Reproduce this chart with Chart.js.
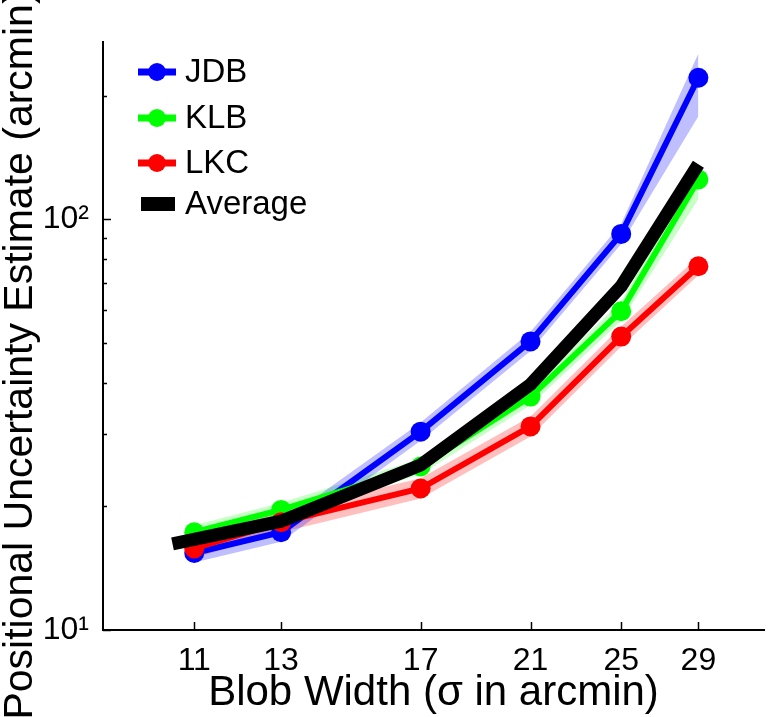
<!DOCTYPE html>
<html>
<head>
<meta charset="utf-8">
<title>Positional Uncertainty Estimate</title>
<script src="https://cdn.jsdelivr.net/npm/chart.js@4/dist/chart.umd.min.js"></script>
<style>
    html, body { margin: 0; padding: 0; background: #ffffff; }
    #wrap { width: 774px; height: 717px; }
</style>
</head>
<body>
<div id="wrap"><canvas id="chart" width="774" height="717"></canvas></div>
<script>
// 数据 - 从图中读取
const blobWidths = [11, 13, 17, 21, 25, 29];
const avgWidths = [10.55, 13, 17, 21, 25, 29];

const jdbValues = [15.4, 17.3, 30.4, 50.4, 92.1, 221];
const jdbLow    = [14.6, 16.4, 28.9, 47.8, 87.0, 178];
const jdbHigh   = [16.3, 18.3, 32.0, 53.2, 97.5, 253];

const klbValues = [17.3, 19.6, 25.0, 37.0, 59.7, 125];
const klbLow    = [16.6, 18.8, 23.9, 35.3, 56.5, 112];
const klbHigh   = [18.0, 20.4, 26.1, 38.9, 63.0, 136];

const lkcValues = [15.8, 18.3, 22.1, 31.3, 51.8, 76.8];
const lkcLow    = [15.0, 17.3, 20.9, 29.6, 49.0, 73.0];
const lkcHigh   = [16.7, 19.4, 23.4, 33.1, 54.8, 81.0];

const avgValues = [16.2, 18.4, 25.2, 39.6, 68.7, 136];

const xTicks = [11, 13, 17, 21, 25, 29];
const yTicks = [10, 20, 30, 40, 50, 60, 70, 80, 90, 100, 200];
const yTickLabels = { 10: '10¹', 100: '10²' };

const FONT = "'Liberation Sans', Arial, Helvetica, sans-serif";

function toPoints(xs, ys) {
    return xs.map((x, i) => ({ x: x, y: ys[i] }));
}

function bandPair(lows, highs, fillColor) {
    return [{
        data: toPoints(blobWidths, highs),
        borderColor: 'transparent',
        backgroundColor: fillColor,
        pointRadius: 0,
        fill: '+1',
        order: 10
    }, {
        data: toPoints(blobWidths, lows),
        borderColor: 'transparent',
        pointRadius: 0,
        fill: false,
        order: 10
    }];
}

function seriesLine(label, values, color, order) {
    return {
        label: label,
        data: toPoints(blobWidths, values),
        borderColor: color,
        backgroundColor: color,
        borderWidth: 6,
        pointRadius: 10,
        pointBackgroundColor: color,
        pointBorderWidth: 0,
        fill: false,
        order: order
    };
}

// 图例（画在坐标区内左上角）
const legendItems = [
    { label: 'JDB', color: '#0000ff', dy: 30 },
    { label: 'KLB', color: '#00ff00', dy: 76 },
    { label: 'LKC', color: '#ff0000', dy: 121 },
    { label: 'Average', color: '#000000', dy: 162, bar: true }
];

const axisExtras = {
    id: 'axisExtras',
    afterDraw(chart) {
        const ctx = chart.ctx;
        const area = chart.chartArea;
        const xs = chart.scales.x;
        const ys = chart.scales.y;
        ctx.save();

        // 向内的刻度线
        ctx.strokeStyle = '#000';
        ctx.lineWidth = 1.5;
        yTicks.forEach(v => {
            const py = Math.round(ys.getPixelForValue(v)) + 0.5;
            const len = yTickLabels[v] ? 8 : 4;
            ctx.beginPath();
            ctx.moveTo(area.left, py);
            ctx.lineTo(area.left + len, py);
            ctx.stroke();
        });
        xTicks.forEach(v => {
            const px = Math.round(xs.getPixelForValue(v)) + 0.5;
            ctx.beginPath();
            ctx.moveTo(px, area.bottom);
            ctx.lineTo(px, area.bottom - 8);
            ctx.stroke();
        });

        // 图例
        ctx.font = '33px ' + FONT;
        ctx.textBaseline = 'middle';
        ctx.textAlign = 'left';
        legendItems.forEach(item => {
            const cy = area.top + item.dy;
            const x0 = area.left + 35;
            if (item.bar) {
                ctx.fillStyle = item.color;
                ctx.fillRect(x0 + 3, cy - 7, 34, 14);
            } else {
                ctx.strokeStyle = item.color;
                ctx.lineWidth = 7;
                ctx.beginPath();
                ctx.moveTo(x0, cy);
                ctx.lineTo(x0 + 38, cy);
                ctx.stroke();
                ctx.fillStyle = item.color;
                ctx.beginPath();
                ctx.arc(x0 + 19, cy, 9, 0, Math.PI * 2);
                ctx.fill();
            }
            ctx.fillStyle = '#000';
            ctx.fillText(item.label, x0 + 47, cy + 1);
        });

        // y轴标题
        ctx.translate(21, 355);
        ctx.rotate(-Math.PI / 2);
        ctx.textAlign = 'center';
        ctx.textBaseline = 'middle';
        ctx.font = '41px ' + FONT;
        ctx.fillStyle = '#000';
        ctx.fillText('Positional Uncertainty Estimate (arcmin)', 0, 0);
        ctx.restore();
    }
};

const ctx = document.getElementById('chart');
const chart = new Chart(ctx, {
    type: 'line',
    data: {
        datasets: [
            ...bandPair(jdbLow, jdbHigh, 'rgba(0, 0, 255, 0.25)'),
            ...bandPair(klbLow, klbHigh, 'rgba(0, 255, 0, 0.22)'),
            ...bandPair(lkcLow, lkcHigh, 'rgba(255, 0, 0, 0.25)'),
            seriesLine('JDB', jdbValues, '#0000ff', 3),
            seriesLine('KLB', klbValues, '#00ff00', 2),
            seriesLine('LKC', lkcValues, '#ff0000', 1),
            {
                label: 'Average',
                data: toPoints(avgWidths, avgValues),
                borderColor: '#000000',
                borderWidth: 13,
                pointRadius: 0,
                borderCapStyle: 'butt',
                borderJoinStyle: 'miter',
                fill: false,
                order: 0
            }
        ]
    },
    options: {
        responsive: false,
        animation: false,
        devicePixelRatio: 1,
        layout: { padding: { top: 42, right: 2, left: 0, bottom: 0 } },
        plugins: {
            legend: { display: false },
            tooltip: { enabled: false }
        },
        scales: {
            x: {
                type: 'logarithmic',
                min: 9.23,
                max: 32.9,
                grid: { display: false },
                border: { display: true, color: '#000', width: 2 },
                afterBuildTicks: s => { s.ticks = xTicks.map(v => ({ value: v })); },
                afterFit: s => {
                    s.height = 87;
                    s.paddingLeft = 0;
                    s.paddingRight = 0;
                },
                ticks: {
                    autoSkip: false,
                    maxRotation: 0,
                    color: '#000',
                    padding: 4,
                    font: { family: FONT, size: 32 },
                    callback: v => String(v)
                },
                title: {
                    display: true,
                    text: 'Blob Width (σ in arcmin)',
                    color: '#000',
                    font: { family: FONT, size: 42, lineHeight: 1 },
                    padding: { top: 0, bottom: 3 }
                }
            },
            y: {
                type: 'logarithmic',
                min: 10,
                max: 270,
                grid: { display: false },
                border: { display: true, color: '#000', width: 2 },
                afterBuildTicks: s => { s.ticks = yTicks.map(v => ({ value: v })); },
                afterFit: s => {
                    s.width = 103;
                    s.paddingTop = 0;
                    s.paddingBottom = 0;
                },
                ticks: {
                    autoSkip: false,
                    color: '#000',
                    padding: 6,
                    font: { family: FONT, size: 32 },
                    callback: v => yTickLabels[v] || ''
                }
            }
        }
    },
    plugins: [axisExtras]
});
</script>
</body>
</html>
